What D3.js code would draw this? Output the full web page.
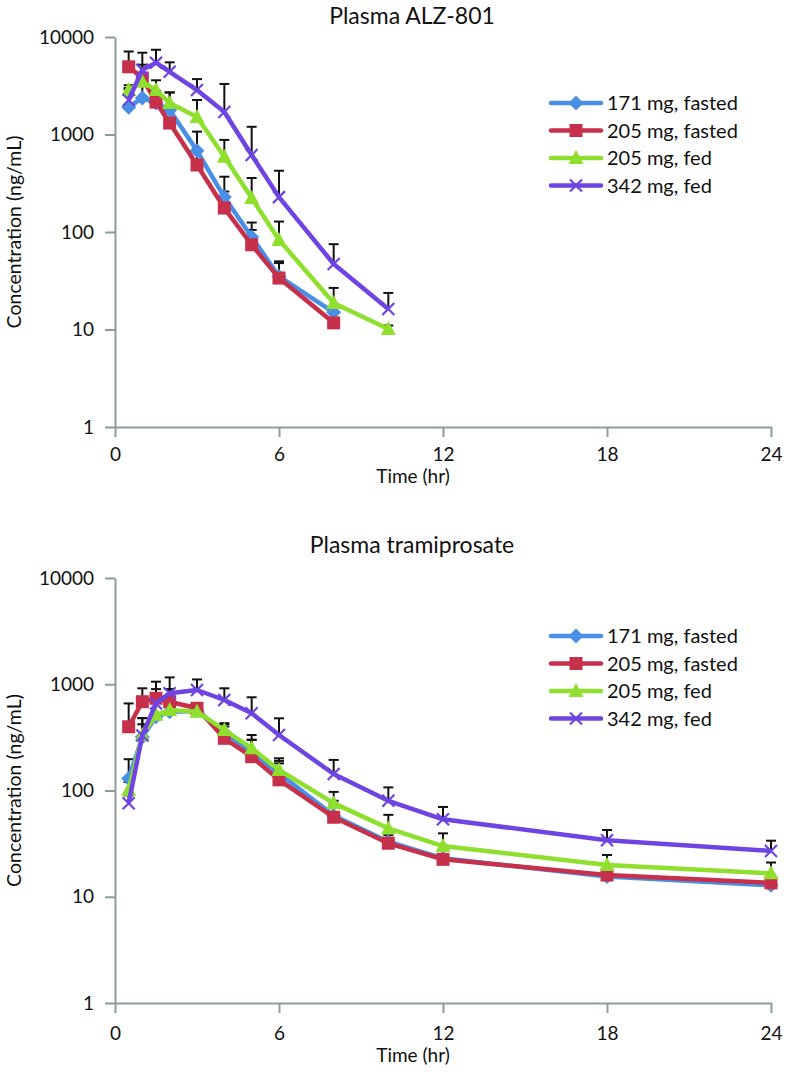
<!DOCTYPE html>
<html><head><meta charset="utf-8">
<script src="https://cdn.jsdelivr.net/npm/d3@7"></script>
<style>
html,body{margin:0;padding:0;background:#fff;}
svg text{font-family:Lato,"Liberation Sans",sans-serif;fill:#111;}
</style></head>
<body><svg id="c" width="786" height="1086"></svg>
<script>
// ---------- data ----------
const seriesNames = ["171 mg, fasted","205 mg, fasted","205 mg, fed","342 mg, fed"];
const seriesColors = ["#4a8fe6","#c6304a","#8fdf2e","#6e45e2"];
const seriesSymbols = ["diamond","square","triangle","cross"];
const yTickValues = [1,10,100,1000,10000];
const xTickValues = [0,6,12,18,24];

// Plasma ALZ-801
const timeA = [0.5,1,1.5,2,3,4,5,6,8,10];
const alz171Fasted = [1900,2370,2100,1780,680,228,89,35,15,null];
const alz205Fasted = [4950,3800,2150,1310,487,176,74,33.7,11.7,null];
const alz205Fed    = [2860,3480,2860,2100,1510,590,223,83,18.7,10.1];
const alz342Fed    = [2260,4600,5450,4400,2860,1700,617,228,47,16.2];
const alz171FastedErr = [2900,3200,2800,2700,1070,369,125,50,17,null];
const alz205FastedErr = [7100,5200,2700,1700,700,260,105,48,13,null];
const alz205FedErr    = [3200,4200,3600,2700,2260,880,358,128,26.7,11];
const alz342FedErr    = [3000,6900,7400,5500,3700,3300,1200,425,75,23.7];

// Plasma tramiprosate
const timeB = [0.5,1,1.5,2,3,4,5,6,8,10,12,18,24];
const tra171Fasted = [130,318,495,552,560,350,230,145,58,33,23,15.5,12.8];
const tra205Fasted = [398,685,738,685,594,310,208,126,56,31.9,22.5,16,13.5];
const tra205Fed    = [101,333,515,572,552,371,250,156,76,44,30,19.9,16.6];
const tra342Fed    = [76,330,660,822,883,711,533,333,143,80,53.6,34,27];
const tra171FastedErr = [197,480,700,800,640,420,300,190,80,40,28,19,15];
const tra205FastedErr = [660,916,1057,900,640,400,300,180,75,38,27,19,16];
const tra205FedErr    = [120,420,800,900,640,430,333,201,97,59,39.5,24.7,21];
const tra342FedErr    = [90,480,900,1160,1110,916,754,478,194,107,70,42.5,33.7];

// ---------- drawing ----------
const svg = d3.select("#c");
const panels = [
  {title:"Plasma ALZ-801", top:37, bottom:427, titleY:24, legendY:103, xPad:11, xTitleOff:56,
   t:timeA, vals:[alz171Fasted,alz205Fasted,alz205Fed,alz342Fed],
   errs:[alz171FastedErr,alz205FastedErr,alz205FedErr,alz342FedErr]},
  {title:"Plasma tramiprosate", top:578, bottom:1003, titleY:553, legendY:636, xPad:14, xTitleOff:59,
   t:timeB, vals:[tra171Fasted,tra205Fasted,tra205Fed,tra342Fed],
   errs:[tra171FastedErr,tra205FastedErr,tra205FedErr,tra342FedErr]}
];
const left = 115, right = 771;
const axisColor = "#8c9b9b";

function symbolPath(type, g, cx, cy, color){
  if(type==="diamond"){
    g.append("path").attr("d",`M${cx},${cy-7.5}L${cx+7.5},${cy}L${cx},${cy+7.5}L${cx-7.5},${cy}Z`).attr("fill",color);
  } else if(type==="square"){
    g.append("rect").attr("x",cx-6.5).attr("y",cy-6.5).attr("width",13).attr("height",13).attr("fill",color);
  } else if(type==="triangle"){
    g.append("path").attr("d",`M${cx},${cy-8}L${cx+7.5},${cy+6}L${cx-7.5},${cy+6}Z`).attr("fill",color);
  } else {
    g.append("path").attr("d",`M${cx-6},${cy-6}L${cx+6},${cy+6}M${cx-6},${cy+6}L${cx+6},${cy-6}`)
      .attr("stroke",color).attr("stroke-width",2.2).attr("fill","none");
  }
}

panels.forEach(p=>{
  const x = d3.scaleLinear().domain([0,24]).range([left,right]);
  const y = d3.scaleLog().domain([1,10000]).range([p.bottom,p.top]);
  const g = svg.append("g");

  // title
  g.append("text").attr("x",412).attr("y",p.titleY).attr("text-anchor","middle")
    .style("font-size","23px").text(p.title);

  // y axis
  const ya = g.append("g").attr("transform",`translate(${left},0)`)
    .call(d3.axisLeft(y).tickValues(yTickValues).tickFormat(d3.format("d")).tickSize(10).tickSizeOuter(0).tickPadding(11));
  ya.select(".domain").attr("stroke",axisColor).attr("stroke-width",2);
  ya.selectAll(".tick line").attr("stroke",axisColor).attr("stroke-width",2);
  ya.selectAll(".tick text").style("font-size","19px").attr("fill","#111");

  // x axis
  const xa = g.append("g").attr("transform",`translate(0,${p.bottom})`)
    .call(d3.axisBottom(x).tickValues(xTickValues).tickSize(10).tickSizeOuter(0).tickPadding(p.xPad));
  xa.select(".domain").attr("stroke",axisColor).attr("stroke-width",2);
  xa.selectAll(".tick line").attr("stroke",axisColor).attr("stroke-width",2);
  xa.selectAll(".tick text").style("font-size","19px").attr("fill","#111");

  // axis titles
  g.append("text").attr("x",(left+right)/2 - 30).attr("y",p.bottom+p.xTitleOff).attr("text-anchor","middle")
    .style("font-size","19px").text("Time (hr)");
  g.append("text").attr("transform",`translate(21,${(p.top+p.bottom)/2}) rotate(-90)`)
    .attr("text-anchor","middle").style("font-size","19.5px").text("Concentration (ng/mL)");

  // error bars (upper only)
  p.vals.forEach((vs,si)=>{
    const eg = g.append("g");
    vs.forEach((v,i)=>{
      const e = p.errs[si][i];
      if(v==null||e==null) return;
      const cx = x(p.t[i]);
      eg.append("line").attr("x1",cx).attr("x2",cx).attr("y1",y(v)).attr("y2",y(e))
        .attr("stroke","#111").attr("stroke-width",2);
      eg.append("line").attr("x1",cx-5).attr("x2",cx+5).attr("y1",y(e)).attr("y2",y(e))
        .attr("stroke","#111").attr("stroke-width",2);
    });
  });

  // lines + markers
  p.vals.forEach((vs,si)=>{
    const pts = vs.map((v,i)=>({t:p.t[i],v})).filter(d=>d.v!=null);
    const line = d3.line().x(d=>x(d.t)).y(d=>y(d.v));
    g.append("path").datum(pts).attr("d",line).attr("fill","none")
      .attr("stroke",seriesColors[si]).attr("stroke-width",4.5).attr("stroke-linejoin","round");
    const mg = g.append("g");
    pts.forEach(d=>symbolPath(seriesSymbols[si], mg, x(d.t), y(d.v), seriesColors[si]));
  });

  // legend
  seriesNames.forEach((n,si)=>{
    const ly = p.legendY + si*27.5;
    const lg = g.append("g");
    lg.append("line").attr("x1",551).attr("x2",601).attr("y1",ly).attr("y2",ly)
      .attr("stroke",seriesColors[si]).attr("stroke-width",4.5).attr("stroke-linecap","round");
    symbolPath(seriesSymbols[si], lg, 576, ly, seriesColors[si]);
    lg.append("text").attr("x",607).attr("y",ly).attr("dy","0.35em")
      .style("font-size","20px").text(n);
  });
});
</script></body></html>
